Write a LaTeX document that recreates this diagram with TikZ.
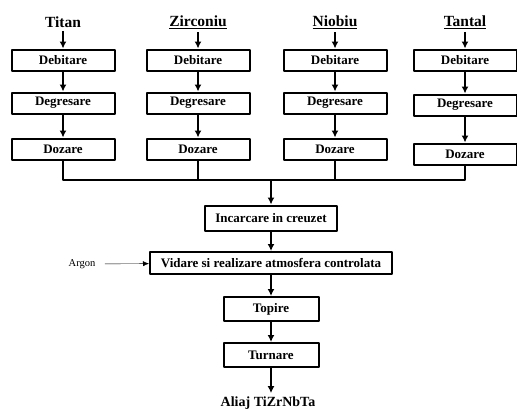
\documentclass[tikz,border=0pt]{standalone}
\usepackage{fontspec}
\setmainfont{Liberation Serif}
\usetikzlibrary{arrows.meta}
\begin{document}
\begin{tikzpicture}[x=1pt,y=-1pt,line join=round,>={Latex[length=7pt,width=7pt]}]
	\tikzset{etapa/.style={draw,line width=2pt,minimum width=103pt,minimum height=21pt,inner sep=0pt,font=\fontsize{13}{15}\selectfont\bfseries},
		sageata/.style={->,line width=2.2pt},
		titlu/.style={font=\fontsize{15.5}{17}\selectfont\bfseries}}
	\useasboundingbox (0,0) rectangle (517,410);
	% cele patru metale
	\foreach \n/\t/\x/\yb/\yc in {ti/Titan/63/103/149, zr/\underline{Zirconiu}/198/103/149, nb/\underline{Niobiu}/335/103/149, ta/\underline{Tantal}/465/105/154}{
		\node[titlu] (\n) at (\x,22) {\t};
		\node[etapa] (\n1) at (\x,60) {Debitare};
		\node[etapa] (\n2) at (\x,\yb) {Degresare};
		\node[etapa] (\n3) at (\x,\yc) {Dozare};
		\draw[sageata] (\n) -- (\n1);
		\draw[sageata] (\n1) -- (\n2);
		\draw[sageata] (\n2) -- (\n3);
	}
	\coordinate (colector) at (271,180);
	\draw[line width=2pt] (ti3) |- (ta3 |- colector) -- (ta3);
	\foreach \n in {zr,nb}
	\draw[line width=2pt] (\n3) -- (\n3 |- colector);
	% fluxul comun
	\node[etapa,minimum width=132pt,minimum height=25pt] (inc) at (271,218) {Incarcare in creuzet};
	\node[etapa,minimum width=242pt,minimum height=22pt] (vid) at (271,263) {Vidare si realizare atmosfera controlata};
	\node[etapa,minimum width=95pt,minimum height=24pt] (top) at (271,309) {Topire};
	\node[etapa,minimum width=95pt,minimum height=24pt] (tur) at (271,355) {Turnare};
	\node[titlu,font=\fontsize{14}{16}\selectfont\bfseries] (aliaj) at (268,403) {Aliaj TiZrNbTa};
	\node[font=\fontsize{10.5}{12}\selectfont] (argon) at (82,264) {Argon};
	\draw[sageata] (colector) -- (inc);
	\draw[sageata] (inc) -- (vid);
	\draw[sageata] (vid) -- (top);
	\draw[sageata] (top) -- (tur);
	\draw[sageata] (tur) -- (tur |- aliaj.north);
	\draw[-{Latex[length=6pt,width=5pt]},thin,shorten <=6pt] (argon) -- (vid);
\end{tikzpicture}
\end{document}
